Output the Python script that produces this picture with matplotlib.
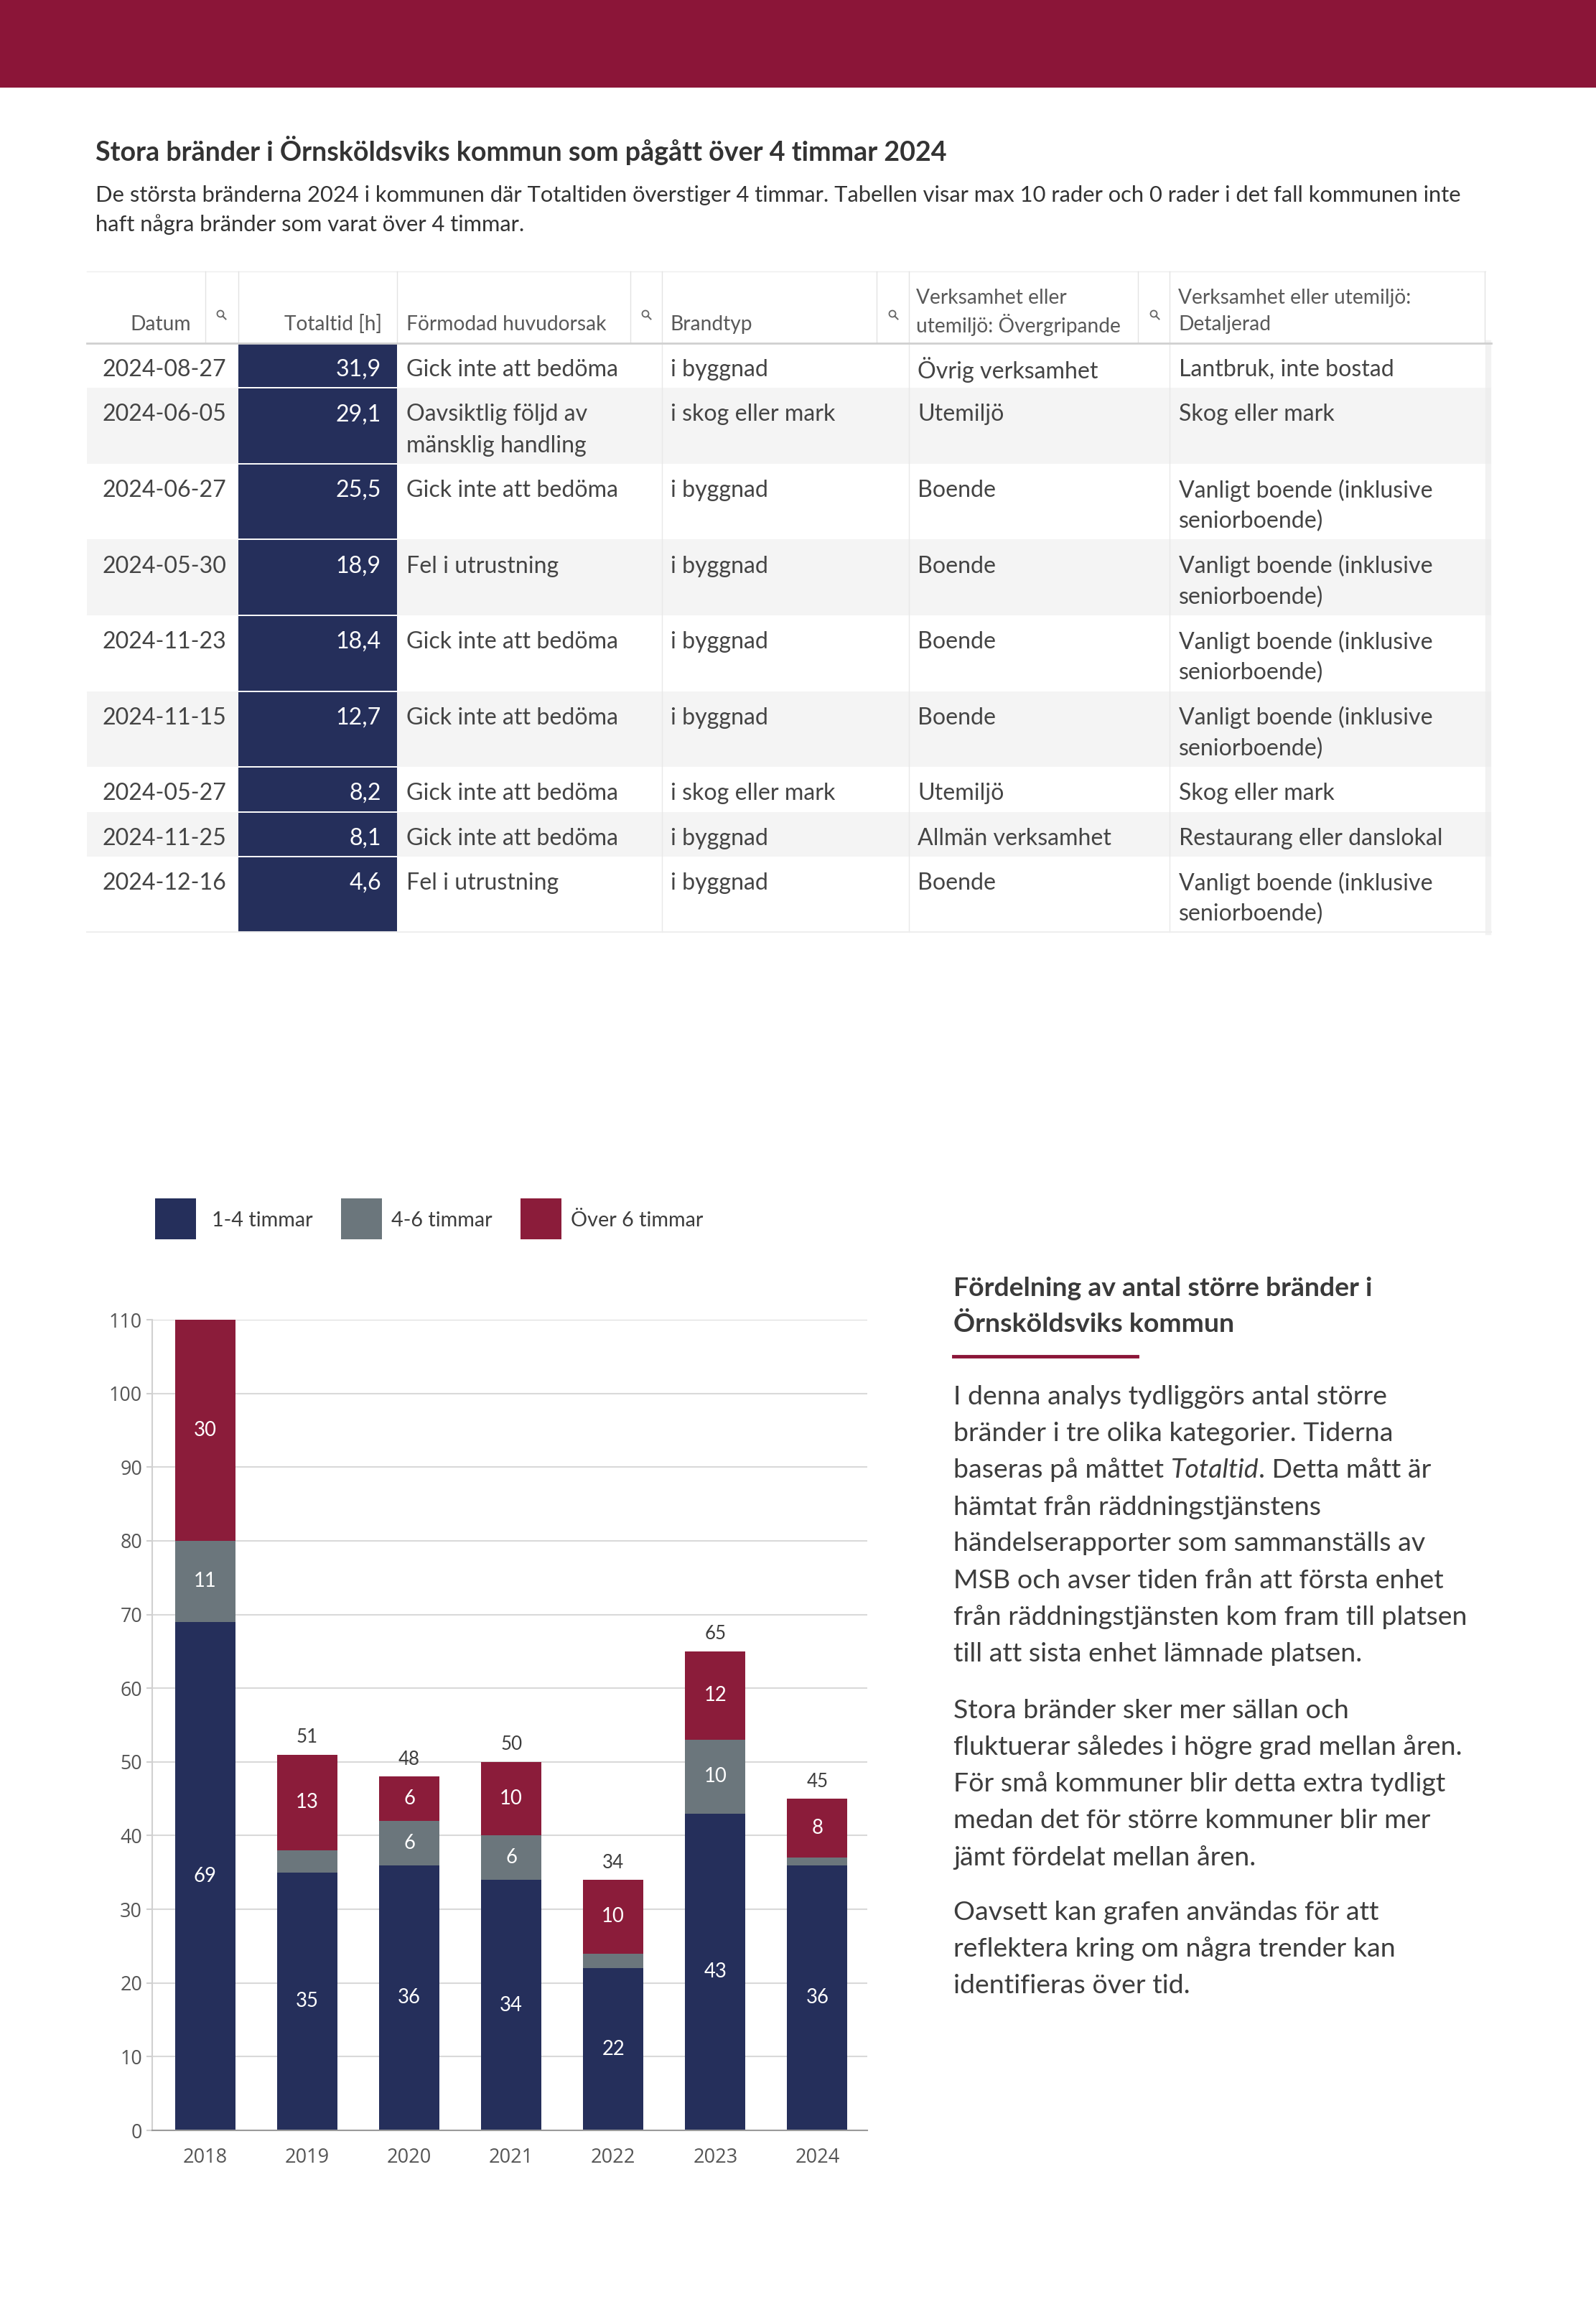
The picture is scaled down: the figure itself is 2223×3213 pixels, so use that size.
import matplotlib
matplotlib.use('Agg')
import matplotlib.pyplot as plt
from matplotlib.patches import Rectangle, Circle
from matplotlib.lines import Line2D
import numpy as np

W, H = 2223, 3213
DPI = 100

# ---------------- data ----------------
years = ['2018', '2019', '2020', '2021', '2022', '2023', '2024']
h_1_4 = [69, 35, 36, 34, 22, 43, 36]
h_4_6 = [11, 3, 6, 6, 2, 10, 1]
h_over6 = [30, 13, 6, 10, 10, 12, 8]
series_names = ['1-4 timmar', '4-6 timmar', 'Över 6 timmar']
yticks = [0, 10, 20, 30, 40, 50, 60, 70, 80, 90, 100, 110]

tbl_datum = ['2024-08-27', '2024-06-05', '2024-06-27', '2024-05-30', '2024-11-23',
             '2024-11-15', '2024-05-27', '2024-11-25', '2024-12-16']
tbl_totaltid = [31.9, 29.1, 25.5, 18.9, 18.4, 12.7, 8.2, 8.1, 4.6]
tbl_orsak = ['Gick inte att bedöma', 'Oavsiktlig följd av\nmänsklig handling',
             'Gick inte att bedöma', 'Fel i utrustning', 'Gick inte att bedöma',
             'Gick inte att bedöma', 'Gick inte att bedöma', 'Gick inte att bedöma',
             'Fel i utrustning']
tbl_brandtyp = ['i byggnad', 'i skog eller mark', 'i byggnad', 'i byggnad', 'i byggnad',
                'i byggnad', 'i skog eller mark', 'i byggnad', 'i byggnad']
tbl_overgr = ['Övrig verksamhet', 'Utemiljö', 'Boende', 'Boende', 'Boende', 'Boende',
              'Utemiljö', 'Allmän verksamhet', 'Boende']
tbl_detalj = ['Lantbruk, inte bostad', 'Skog eller mark',
              'Vanligt boende (inklusive\nseniorboende)', 'Vanligt boende (inklusive\nseniorboende)',
              'Vanligt boende (inklusive\nseniorboende)', 'Vanligt boende (inklusive\nseniorboende)',
              'Skog eller mark', 'Restaurang eller danslokal',
              'Vanligt boende (inklusive\nseniorboende)']

title = 'Stora bränder i Örnsköldsviks kommun som pågått över 4 timmar 2024'
subtitle = ['De största bränderna 2024 i kommunen där Totaltiden överstiger 4 timmar. Tabellen visar max 10 rader och 0 rader i det fall kommunen inte',
            'haft några bränder som varat över 4 timmar.']
side_heading = ['Fördelning av antal större bränder i', 'Örnsköldsviks kommun']
para1 = ['I denna analys tydliggörs antal större',
         'bränder i tre olika kategorier. Tiderna',
         None,
         'hämtat från räddningstjänstens',
         'händelserapporter som sammanställs av',
         'MSB och avser tiden från att första enhet',
         'från räddningstjänsten kom fram till platsen',
         'till att sista enhet lämnade platsen.']
para1_line3 = ['baseras på måttet', 'Totaltid', '. Detta mått är']
para2 = ['Stora bränder sker mer sällan och',
         'fluktuerar således i högre grad mellan åren.',
         'För små kommuner blir detta extra tydligt',
         'medan det för större kommuner blir mer',
         'jämt fördelat mellan åren.']
para3 = ['Oavsett kan grafen användas för att',
         'reflektera kring om några trender kan',
         'identifieras över tid.']

# ---------------- style ----------------
CRIMSON = '#8B1538'
NAVY = '#252F5B'
GREY = '#6B767C'
RED = '#8B1C3A'
TXT = '#3d3d3d'
GILL = ['Lato', 'DejaVu Sans']
SEGOE = ['Open Sans', 'DejaVu Sans']

fig = plt.figure(figsize=(W / DPI, H / DPI), dpi=DPI)
page = fig.add_axes([0, 0, 1, 1])
page.set_xlim(0, W)
page.set_ylim(H, 0)
page.axis('off')
renderer = fig.canvas.get_renderer()


def width_of(s, size, **kw):
    t = page.text(0, 0, s, fontsize=size, **kw)
    w = t.get_window_extent(renderer).width
    t.remove()
    return w


def fit(s, target, **kw):
    return 20.0 * target / width_of(s, 20.0, **kw)


# banner
page.add_patch(Rectangle((0, 0), W, 122, color=CRIMSON, lw=0))

# title + subtitle
fs_title = fit(title, 1188, family=GILL, weight='bold')
page.text(133, 210, title, fontsize=fs_title, family=GILL, weight='bold', color='#333333', va='center')
fs_sub = fit(subtitle[0], 1910, family=GILL)
for i, line in enumerate(subtitle):
    page.text(133, 272 + i * 41, line, fontsize=fs_sub, family=GILL, color='#333333', va='center')

# ---------------- table ----------------
TL, TR = 121, 2077
col_lines = [286, 332, 553, 878, 922, 1221, 1266, 1585, 1629, 2068]
HEAD_TOP, HEAD_BOT = 378, 478
fs_head = fit('Förmodad huvudorsak', 278, family=GILL)
fs_cell = 0.5 * (fit('2024-08-27', 165, family=GILL) + fit('Gick inte att bedöma', 308, family=GILL))
HEAD_COL = '#595959'
CELL_COL = '#444444'

page.plot([TL, TR - 8], [HEAD_TOP, HEAD_TOP], color='#eeeeee', lw=1)
for cx in col_lines:
    page.plot([cx, cx], [HEAD_TOP, HEAD_BOT], color='#e3e3e3', lw=1)

headers = [
    (266, 'right', ['Datum']),
    (532, 'right', ['Totaltid [h]']),
    (566, 'left', ['Förmodad huvudorsak']),
    (933, 'left', ['Brandtyp']),
    (1276, 'left', ['Verksamhet eller', 'utemiljö: Övergripande']),
    (1641, 'left', ['Verksamhet eller utemiljö:', 'Detaljerad']),
]
for x, ha, lines in headers:
    n = len(lines)
    for j, line in enumerate(lines):
        y = 452 - (n - 1 - j) * 37
        page.text(x, y, line, fontsize=fs_head, family=GILL, color=HEAD_COL, ha=ha, va='center')

# search icons
for ix in [307, 899, 1243, 1607]:
    iy = 437
    page.add_patch(Circle((ix, iy), 4.5, fill=False, lw=1.3, ec='#666666'))
    page.add_line(Line2D([ix + 3.2, ix + 7.5], [iy + 3.2, iy + 7.5], color='#666666', lw=1.4))

# rows
SINGLE, EXTRA = 62.5, 43.0
y = HEAD_BOT
row_tops = []
for i in range(len(tbl_datum)):
    nlines = max(s.count('\n') + 1 for s in [tbl_orsak[i], tbl_detalj[i], tbl_overgr[i]])
    hgt = SINGLE + EXTRA * (nlines - 1)
    row_tops.append((y, hgt))
    if i % 2 == 1:
        page.add_patch(Rectangle((TL, y), TR - TL, hgt, color='#f4f4f4', lw=0, zorder=0))
    page.add_patch(Rectangle((332, y + 1), 553 - 332, hgt - 2, color=NAVY, lw=0, zorder=1))
    y += hgt

TABLE_BOT = y
page.plot([TL, TR], [HEAD_BOT, HEAD_BOT], color='#d0d0d0', lw=2, zorder=3)
page.plot([TL, TR], [TABLE_BOT, TABLE_BOT], color='#eeeeee', lw=1.5, zorder=3)
for cx in [922, 1266, 1629]:
    page.plot([cx, cx], [HEAD_BOT, TABLE_BOT], color='#e8e8e8', lw=1, zorder=2)
page.plot([TR - 4, TR - 4], [HEAD_BOT, TABLE_BOT], color='#eaeaea', lw=6, zorder=2, alpha=0.6)

for i, (top, hgt) in enumerate(row_tops):
    cy = top + 37
    page.text(142, cy, tbl_datum[i], fontsize=fs_cell, family=GILL, color=CELL_COL, va='center', zorder=4)
    page.text(531, cy, f'{tbl_totaltid[i]:.1f}'.replace('.', ','), fontsize=fs_cell, family=GILL,
              color='white', ha='right', va='center', zorder=4)
    for x, s in [(566, tbl_orsak[i]), (934, tbl_brandtyp[i]), (1278, tbl_overgr[i]), (1642, tbl_detalj[i])]:
        for j, line in enumerate(s.split('\n')):
            page.text(x, cy + j * EXTRA, line, fontsize=fs_cell, family=GILL, color=CELL_COL,
                      va='center', zorder=4)

# ---------------- legend ----------------
fs_leg = fit('Över 6 timmar', 185, family=GILL)
for (sx, tx), name, col in zip([(216, 295), (475, 545), (725, 795)], series_names, [NAVY, GREY, RED]):
    page.add_patch(Rectangle((sx, 1669), 57, 57, color=col, lw=0))
    page.text(tx, 1700, name, fontsize=fs_leg, family=GILL, color=TXT, va='center')

# ---------------- bar chart ----------------
ax = fig.add_axes([212 / W, 1 - 2967 / H, (1208 - 212) / W, (2967 - 1838) / H])
ax.patch.set_alpha(0)
x = np.arange(len(years))
bw = 0.591
v1 = np.array(h_1_4)
v2 = np.array(h_4_6)
v3 = np.array(h_over6)
ax.bar(x, v1, width=bw, color=NAVY, zorder=3, lw=0)
ax.bar(x, v2, width=bw, bottom=v1, color=GREY, zorder=3, lw=0)
ax.bar(x, v3, width=bw, bottom=v1 + v2, color=RED, zorder=3, lw=0)
ax.set_xlim(-0.52, 6.49)
ax.set_ylim(0, 110)
ax.set_yticks(yticks)
ax.set_xticks(x)
ax.set_xticklabels(years)
ax.grid(axis='y', color='#d9d9d9', lw=1.5, zorder=0)
ax.grid(axis='x', visible=False)
for s in ['top', 'right']:
    ax.spines[s].set_visible(False)
ax.spines['left'].set_color('#d0d0d0')
ax.spines['left'].set_linewidth(1.5)
ax.spines['bottom'].set_color('#9a9a9a')
ax.spines['bottom'].set_linewidth(1.5)
ax.spines['bottom'].set_zorder(4)

fs_yt = fit('110', 46, family=SEGOE)
fs_xt = fit('2018', 62, family=SEGOE)
ax.tick_params(axis='y', length=6, color='#d0d0d0', width=1.5, pad=4, labelsize=fs_yt, labelcolor='#555555')
ax.tick_params(axis='x', length=0, pad=17, labelsize=fs_xt, labelcolor='#555555')
for lab in ax.get_xticklabels() + ax.get_yticklabels():
    lab.set_family(SEGOE)

fs_seg = fit('69', 32, family=GILL)
fs_tot = fit('51', 30, family=GILL)
for i in range(len(years)):
    bottoms = [0, v1[i], v1[i] + v2[i]]
    for b, v in zip(bottoms, [v1[i], v2[i], v3[i]]):
        if v >= 5:
            ax.text(x[i], b + v / 2, str(v), ha='center', va='center', color='white',
                    fontsize=fs_seg, family=GILL, zorder=5)
    total = v1[i] + v2[i] + v3[i]
    if total < 110:
        ax.annotate(str(total), (x[i], total), xytext=(0, 24), textcoords='offset pixels',
                    ha='center', va='center', color=TXT, fontsize=fs_tot, family=GILL)

# ---------------- side text ----------------
RX = 1328
fs_hd = fit(side_heading[0], 584, family=GILL, weight='bold')
for i, line in enumerate(side_heading):
    page.text(RX, 1794 + i * 50, line, fontsize=fs_hd, family=GILL, weight='bold', color='#3a3a3a', va='center')
page.add_line(Line2D([RX, 1584], [1889, 1889], color=CRIMSON, lw=3.5))

fs_body = fit('från räddningstjänsten kom fram till platsen', 716, family=GILL)
LS = 51.2


def body_line(yy, s):
    page.text(RX, yy, s, fontsize=fs_body, family=GILL, color=TXT, va='center')


for i, line in enumerate(para1):
    yy = 1945 + i * LS
    if line is None:
        a, b, c = para1_line3
        sp = width_of('a a', fs_body, family=GILL) - width_of('aa', fs_body, family=GILL)
        body_line(yy, a)
        xa = RX + width_of(a, fs_body, family=GILL) + sp
        page.text(xa, yy, b, fontsize=fs_body, family=GILL, style='italic', color=TXT, va='center')
        xb = xa + width_of(b, fs_body, family=GILL, style='italic')
        page.text(xb, yy, c, fontsize=fs_body, family=GILL, color=TXT, va='center')
    else:
        body_line(yy, line)
for i, line in enumerate(para2):
    body_line(2382 + i * LS, line)
for i, line in enumerate(para3):
    body_line(2663 + i * LS, line)

fig.savefig('out.png', dpi=DPI)
